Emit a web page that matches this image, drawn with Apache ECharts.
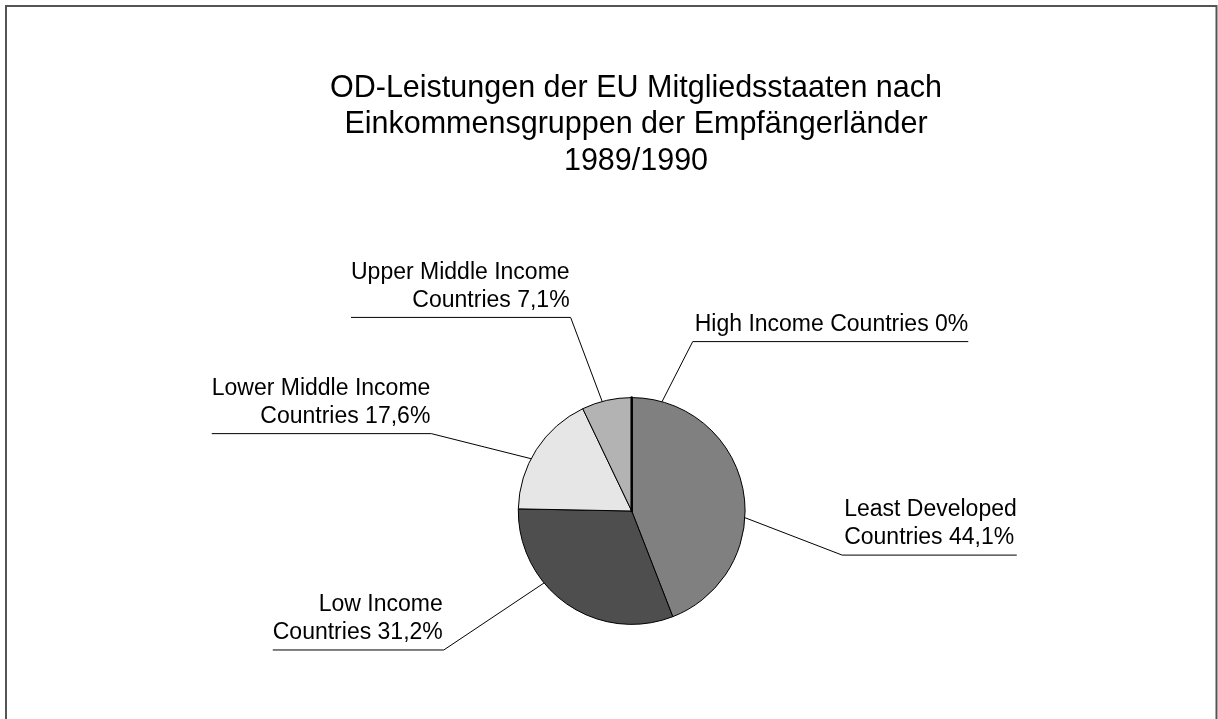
<!DOCTYPE html>
<html>
<head>
<meta charset="utf-8">
<script src="https://cdn.jsdelivr.net/npm/echarts@6/dist/echarts.min.js"></script>
<style>
  html, body { margin: 0; padding: 0; background: #fff; }
  #chart { width: 1218px; height: 719px; }
</style>
</head>
<body>
<div id="chart"></div>
<script>
// ---- Data ----
const titleLines = [
  'OD-Leistungen der EU Mitgliedsstaaten nach',
  'Einkommensgruppen der Empfängerländer',
  '1989/1990'
];
const categories = [
  'Least Developed\nCountries',
  'Low Income\nCountries',
  'Lower Middle Income\nCountries',
  'Upper Middle Income\nCountries',
  'High Income Countries'
];
const shares = [44.1, 31.2, 17.6, 7.1, 0];

// ---- Styles / layout (not data) ----
const sliceColors = ['#808080', '#4e4e4e', '#e6e6e6', '#b3b3b3', '#000000'];
const sliceBorder = [1, 1, 1, 1, 2.5];
const PIE_CENTER = [631.7, 511];
const PIE_RADIUS = 113.4;
// elbow of each leader line, relative to the slice's mid-angle point on the pie edge
const leaderOffsets = [[99, 65], [-123, 46], [-105, -16], [-36, -83], [61, -56]];
// rotation (degrees, clockwise) of where each leader line touches the pie edge
const anchorShift = [14, 15.7, -5.3, -2.3, 15.5];
const FONT = '"Liberation Sans", Arial, Helvetica, sans-serif';

function fmt(v) {
  return v === 0 ? '0' : v.toFixed(1).replace('.', ',');
}

const chart = echarts.init(document.getElementById('chart'), null, { renderer: 'canvas' });

const option = {
  backgroundColor: '#ffffff',
  animation: false,
  graphic: [
    {
      type: 'rect',
      shape: { x: 6, y: 6, width: 1210.5, height: 740 },
      style: { fill: 'none', stroke: '#555555', lineWidth: 2 },
      silent: true
    },
    {
      type: 'text',
      x: 636,
      y: 70,
      style: {
        text: titleLines.join('\n'),
        align: 'center',
        verticalAlign: 'top',
        font: '30.5px ' + FONT,
        lineHeight: 36.5,
        fill: '#000000'
      },
      silent: true
    }
  ],
  series: [
    {
      type: 'pie',
      center: PIE_CENTER,
      radius: PIE_RADIUS,
      startAngle: 90,
      clockwise: true,
      minAngle: 0,
      avoidLabelOverlap: false,
      silent: true,
      data: categories.map((name, i) => ({
        name: name,
        value: shares[i],
        itemStyle: {
          color: sliceColors[i],
          borderColor: '#000000',
          borderWidth: sliceBorder[i]
        }
      })),
      label: {
        show: true,
        position: 'outside',
        formatter: p => p.name + ' ' + fmt(p.value) + '%',
        color: '#000000',
        fontFamily: FONT,
        fontSize: 23,
        lineHeight: 28
      },
      labelLine: {
        show: true,
        length: 20,
        length2: 20,
        smooth: false,
        lineStyle: { color: '#000000', width: 1 }
      },
      labelLayout: function (p) {
        const pts = p.labelLinePoints;
        if (!pts) return {};
        const i = p.dataIndex;
        const off = leaderOffsets[i];
        const a0 = pts[0];
        const e = [a0[0] + off[0], a0[1] + off[1]];
        // move the touching point along the arc
        const ang = Math.atan2(a0[1] - PIE_CENTER[1], a0[0] - PIE_CENTER[0]) + anchorShift[i] * Math.PI / 180;
        const a = [PIE_CENTER[0] + PIE_RADIUS * Math.cos(ang), PIE_CENTER[1] + PIE_RADIUS * Math.sin(ang)];
        const w = p.labelRect.width;
        const right = off[0] > 0;
        const end = right ? [e[0] + 2 + w, e[1]] : [e[0] - 1 - w, e[1]];
        return {
          x: right ? e[0] + 2 : e[0] - 1,
          y: e[1] - 3,
          align: right ? 'left' : 'right',
          verticalAlign: 'bottom',
          labelLinePoints: [a, e, end]
        };
      }
    }
  ]
};

chart.setOption(option);
</script>
</body>
</html>
